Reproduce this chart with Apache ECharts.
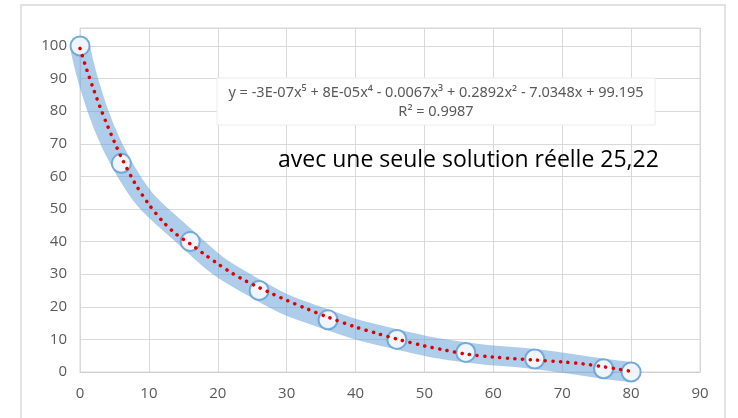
<!DOCTYPE html>
<html>
<head>
<meta charset="utf-8">
<script src="https://cdn.jsdelivr.net/npm/echarts@6/dist/echarts.min.js"></script>
<style>html,body{margin:0;padding:0;background:#fff}#c{width:738px;height:418px}</style>
</head>
<body>
<div id="c"></div>
<script>
// measured points
const dataX = [0, 6, 16, 26, 36, 46, 56, 66, 76, 80];
const dataY = [100, 64, 40, 25, 16, 10, 6, 4, 1, 0];
// dotted trend line
const trendX = [0, 1, 2, 3, 4, 5, 6, 8, 10, 12, 14, 16, 18, 20, 22, 24, 26, 28, 30, 33, 36, 40, 43, 46, 50, 53, 56, 60, 63, 66, 70, 73, 76, 78, 80];
const trendY = [99.2, 92.6, 86.5, 80.8, 75.5, 70.5, 65.8, 57.8, 51.4, 46.2, 42.2, 39.3, 36.2, 33.2, 30.4, 28.0, 25.9, 23.9, 22.0, 19.3, 16.8, 13.8, 11.9, 10.1, 8.0, 6.7, 5.5, 4.6, 4.1, 3.7, 3.1, 2.5, 1.6, 0.9, 0.2];
const xTicks = {min: 0, max: 90, step: 10};
const yTicks = {min: 0, max: 100, step: 10};
const equationText = 'y = -3E-07x⁵ + 8E-05x⁴ - 0.0067x³ + 0.2892x² - 7.0348x + 99.195';
const r2Text = 'R² = 0.9987';
const noteText = 'avec une seule solution réelle 25,22';

const pts = dataX.map((x, i) => [x, dataY[i]]);
const trend = trendX.map((x, i) => [x, trendY[i]]);

const chart = echarts.init(document.getElementById('c'));
chart.setOption({
  animation: false,
  backgroundColor: '#fff',
  grid: {left: 80, right: 38, top: 28, bottom: 46, show: true, borderColor: '#d9d9d9', borderWidth: 1, backgroundColor: 'transparent'},
  xAxis: {
    type: 'value', min: xTicks.min, max: xTicks.max, interval: xTicks.step,
    axisLine: {show: true, lineStyle: {color: '#d0d0d0'}},
    axisTick: {show: false},
    splitLine: {show: true, lineStyle: {color: '#d9d9d9'}},
    axisLabel: {color: '#595959', fontSize: 15, margin: 14, fontFamily: 'Open Sans'}
  },
  yAxis: {
    type: 'value', min: yTicks.min, max: 105.5, interval: yTicks.step,
    axisLine: {show: false},
    axisTick: {show: false},
    splitLine: {show: true, lineStyle: {color: '#d9d9d9'}},
    axisLabel: {color: '#595959', fontSize: 15, margin: 13, fontFamily: 'Open Sans', showMaxLabel: false,
      formatter: v => (v > yTicks.max ? '' : String(v))}
  },
  series: [
    {
      type: 'line', data: pts, smooth: 0.5, showSymbol: false, silent: true,
      lineStyle: {width: 20, color: 'rgba(91,155,213,0.5)', cap: 'round', join: 'round'},
      z: 1
    },
    {
      type: 'scatter', data: pts, symbol: 'circle', symbolSize: 19,
      itemStyle: {color: '#ffffff', borderColor: '#5b9bd5', borderWidth: 2},
      z: 2
    },
    {
      type: 'line', data: trend, smooth: 0.3, showSymbol: false, silent: true,
      lineStyle: {width: 3.5, color: '#e00000', type: [0.1, 7.5], cap: 'round'},
      z: 3
    }
  ],
  graphic: [
    {type: 'rect', shape: {x: 21, y: 5, width: 704, height: 430}, style: {fill: 'none', stroke: '#d9d9d9', lineWidth: 1.5}, z: 0, silent: true},
    {type: 'rect', shape: {x: 217, y: 78, width: 438, height: 47}, style: {fill: '#fff', stroke: '#ececec', lineWidth: 1}, z: 10},
    {type: 'text', x: 436, y: 93, style: {text: equationText, fill: '#595959', font: '14.5px "Noto Sans"', align: 'center', verticalAlign: 'middle'}, z: 11},
    {type: 'text', x: 436, y: 112, style: {text: r2Text, fill: '#595959', font: '14.5px "Noto Sans"', align: 'center', verticalAlign: 'middle'}, z: 11},
    {type: 'text', x: 278, y: 160, style: {text: noteText, fill: '#000', font: '23px "Open Sans"', align: 'left', verticalAlign: 'middle'}, z: 11}
  ]
});
</script>
</body>
</html>
